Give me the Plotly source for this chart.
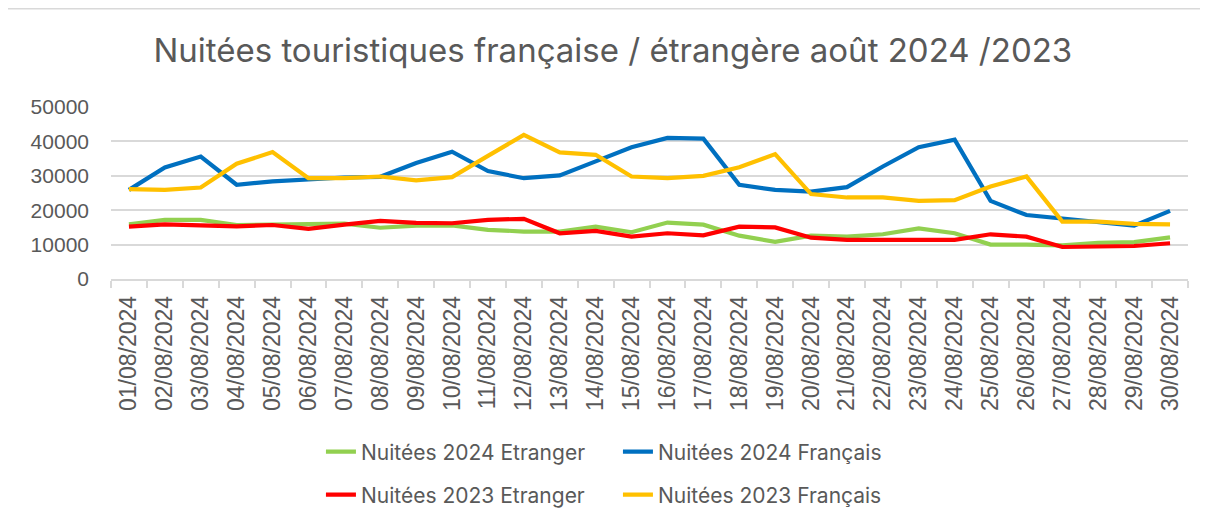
import plotly.graph_objects as go

dates = [f"{d:02d}/08/2024" for d in range(1, 31)]

etranger_2024 = [15900, 17200, 17200, 15700, 15800, 15900, 16100, 14900, 15500, 15600,
                 14300, 13800, 13800, 15200, 13600, 16400, 15800, 12600, 10800, 12600,
                 12300, 13000, 14700, 13300, 10000, 10000, 9800, 10500, 10700, 12100]
francais_2024 = [25900, 32400, 35600, 27400, 28400, 29100, 29500, 29700, 33700, 37000,
                 31400, 29300, 30100, 34200, 38300, 41000, 40800, 27400, 25900, 25400,
                 26700, 32700, 38300, 40500, 22700, 18600, 17500, 16500, 15500, 19800]
etranger_2023 = [15200, 15900, 15600, 15300, 15700, 14600, 15800, 16900, 16300, 16200,
                 17200, 17500, 13300, 14000, 12300, 13300, 12700, 15200, 15000, 12000,
                 11400, 11400, 11400, 11400, 13000, 12300, 9300, 9500, 9600, 10400]
francais_2023 = [26100, 25900, 26600, 33500, 36900, 29300, 29300, 29800, 28700, 29600,
                 35800, 41900, 36800, 36100, 29800, 29300, 30000, 32500, 36300, 24700,
                 23700, 23700, 22700, 22900, 26900, 29800, 16700, 16700, 16000, 15900]

series = [
    ("Nuitées 2024 Etranger", etranger_2024, "#92D050", "legend"),
    ("Nuitées 2024 Français", francais_2024, "#0070C0", "legend"),
    ("Nuitées 2023 Etranger", etranger_2023, "#FF0000", "legend2"),
    ("Nuitées 2023 Français", francais_2023, "#FFC000", "legend2"),
]

fig = go.Figure()
for name, vals, color, lg in series:
    fig.add_trace(go.Scatter(x=dates, y=vals, name=name, mode="lines",
                             line=dict(color=color, width=4.2), legend=lg))

grey = "#595959"
arial = "Liberation Sans, Arial, sans-serif"
leg_font = dict(family="Inter, Open Sans, sans-serif", size=21, color=grey)

W, H = 1200, 519
L, R, T, B = 103, 20, 99, 248
plot_h = H - T - B

fig.update_layout(
    width=W, height=H,
    margin=dict(l=L, r=R, t=T, b=B, autoexpand=False),
    paper_bgcolor="white", plot_bgcolor="white",
    title=dict(text="Nuitées touristiques française / étrangère août 2024 /2023",
               x=0.504, xanchor="center", y=0.919, yanchor="middle", yref="container",
               font=dict(family="Inter, Open Sans, sans-serif", size=33, color=grey)),
    xaxis=dict(type="category", range=[-0.5, 29.5], tickangle=-90,
               tickfont=dict(size=23, family=arial, color=grey), ticklabelstandoff=6,
               showline=True, linecolor="#d9d9d9", linewidth=1.5, ticks="outside", tickson="boundaries",
               ticklen=7, tickcolor="#d9d9d9", tickwidth=1.5, showgrid=False),
    yaxis=dict(range=[0, 50000], tickvals=[0, 10000, 20000, 30000, 40000, 50000],
               ticktext=["0", "10000", "20000", "30000", "40000", "50000"],
               tickfont=dict(size=21, family=arial, color=grey), gridcolor="#d9d9d9", gridwidth=1.5,
               zeroline=False, showline=False, ticklabelstandoff=21),
    legend=dict(orientation="h", x=0.4707, xanchor="center", y=-1.006, yanchor="middle",
                font=leg_font, bgcolor="rgba(0,0,0,0)", entrywidth=252, entrywidthmode="pixels"),
    legend2=dict(orientation="h", x=0.4707, xanchor="center", y=-1.256, yanchor="middle",
                 font=leg_font, bgcolor="rgba(0,0,0,0)", entrywidth=252, entrywidthmode="pixels"),
    shapes=[dict(type="rect", xref="paper", yref="paper",
                 x0=(-20 - L) / (W - L - R), x1=(W + 20 - L) / (W - L - R),
                 y0=(plot_h + T - H - 20) / plot_h, y1=(plot_h + T - 0.75) / plot_h,
                 line=dict(color="#d9d9d9", width=1.5), layer="below")],
)

fig.write_html("out.html")
